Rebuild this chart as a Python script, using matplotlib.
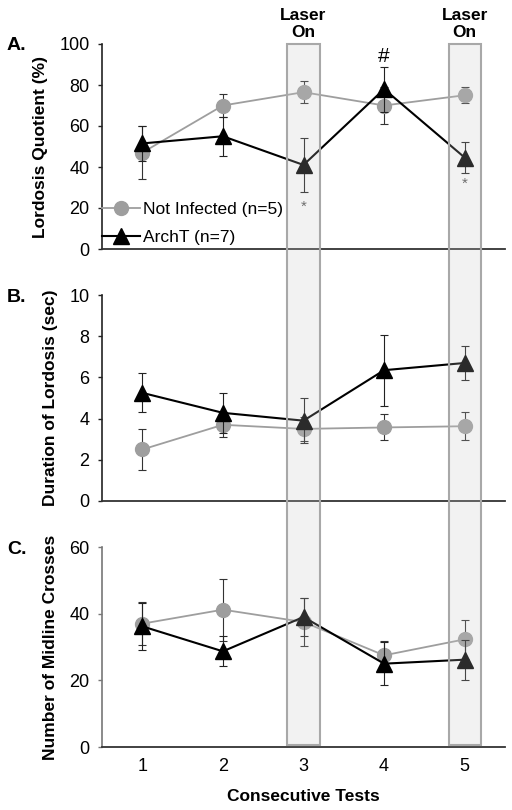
import matplotlib.pyplot as plt
import matplotlib.transforms as mtransforms
from matplotlib.patches import Rectangle
from matplotlib.lines import Line2D

# Data
tests = [1, 2, 3, 4, 5]
laser_tests = [3, 5]

lq_ctrl = [47, 70, 76.5, 70, 75]
lq_ctrl_err = [13, 5.5, 5.4, 9, 3.8]
lq_arch = [51.5, 55, 41, 78, 44.6]
lq_arch_err = [8.6, 9.6, 13.3, 11, 7.5]

dur_ctrl = [2.5, 3.7, 3.5, 3.57, 3.63]
dur_ctrl_err = [1.0, 0.6, 0.6, 0.63, 0.67]
dur_arch = [5.25, 4.28, 3.9, 6.35, 6.7]
dur_arch_err = [0.95, 0.97, 1.1, 1.73, 0.84]

mid_ctrl = [37, 41.2, 37.5, 27.5, 32.3]
mid_ctrl_err = [6.5, 9.3, 7.3, 4.2, 5.9]
mid_arch = [36.2, 28.7, 39, 25, 26.2]
mid_arch_err = [7, 4.5, 5.7, 6.5, 6]

fig = plt.figure(figsize=(5.12, 8.1), dpi=100)
plt.rcParams['font.family'] = ['Liberation Sans', 'DejaVu Sans']

W, H = 512, 810
left, right = 102 / W, 505 / W

CTRL_COLOR = '#9e9e9e'

def make_ax(top_px, bot_px):
    return fig.add_axes([left, 1 - bot_px / H, right - left, (bot_px - top_px) / H])

axA = make_ax(44, 249)
axB = make_ax(295, 501)
axC = make_ax(547, 747)

def plot_panel(ax, ctrl, ctrl_err, arch, arch_err, ylim, yticks, ylabel, letter,
               letter_y, spine_color):
    ax.errorbar(tests, ctrl, yerr=ctrl_err, color=CTRL_COLOR, marker='o', markersize=10,
                linewidth=1.3, ecolor='#333333', elinewidth=0.8, capsize=3,
                capthick=0.8, zorder=3)
    ax.errorbar(tests, arch, yerr=arch_err, color='black', marker='^', markersize=11,
                linewidth=1.5, ecolor='#222222', elinewidth=0.8, capsize=3,
                capthick=0.8, zorder=4)
    ax.set_xlim(0.5, 5.5)
    ax.set_ylim(*ylim)
    ax.set_yticks(yticks)
    ax.tick_params(axis='y', length=3, width=1, color=spine_color, labelsize=13, pad=6)
    ax.tick_params(axis='x', length=0, labelsize=13, pad=8)
    for s in ['top', 'right']:
        ax.spines[s].set_visible(False)
    ax.spines['left'].set_color(spine_color)
    ax.spines['left'].set_linewidth(1.2)
    ax.spines['bottom'].set_color('#333333')
    ax.spines['bottom'].set_linewidth(1.3)
    ax.set_ylabel(ylabel, fontsize=12.5, fontweight='bold', labelpad=8)
    fig.text(7 / W, 1 - letter_y / H, letter, fontsize=14, fontweight='bold',
             ha='left', va='center')

plot_panel(axA, lq_ctrl, lq_ctrl_err, lq_arch, lq_arch_err, (0, 100),
           [0, 20, 40, 60, 80, 100], 'Lordosis Quotient (%)', 'A.', 45, '#222222')
plot_panel(axB, dur_ctrl, dur_ctrl_err, dur_arch, dur_arch_err, (0, 10),
           [0, 2, 4, 6, 8, 10], 'Duration of Lordosis (sec)', 'B.', 297, '#222222')
plot_panel(axC, mid_ctrl, mid_ctrl_err, mid_arch, mid_arch_err, (0, 60),
           [0, 20, 40, 60], 'Number of Midline Crosses', 'C.', 549, '#777777')

axA.set_xticks([])
axB.set_xticks([])
axC.set_xticks(tests)
axC.set_xlabel('Consecutive Tests', fontsize=12.5, fontweight='bold', labelpad=10)

handles = [
    Line2D([], [], color=CTRL_COLOR, marker='o', markersize=10, linewidth=1.3),
    Line2D([], [], color='black', marker='^', markersize=11, linewidth=1.5),
]
leg = axA.legend(handles, ['Not Infected (n=5)', 'ArchT (n=7)'], loc='lower left',
                 bbox_to_anchor=(0.0, 0.02), frameon=False, fontsize=12.5,
                 handlelength=2.2, handletextpad=0.15, labelspacing=0.75,
                 borderaxespad=0, borderpad=0)
leg.set_zorder(20)

# significance marks
axA.text(3, 20.8, '*', ha='center', va='center', fontsize=11, color='#555555')
axA.text(5, 32, '*', ha='center', va='center', fontsize=11, color='#555555')
axA.text(4, 94, '#', ha='center', va='center', fontsize=15)

# Laser-on boxes spanning all panels
trans = mtransforms.blended_transform_factory(axA.transData, fig.transFigure)
y_top = 1 - 44 / H
y_bot = 1 - 745 / H
for t in laser_tests:
    fig.add_artist(Rectangle((t - 0.2, y_bot), 0.4, y_top - y_bot, transform=trans,
                             facecolor='#c8c8c8', alpha=0.22, edgecolor='none',
                             zorder=10))
    fig.add_artist(Rectangle((t - 0.2, y_bot), 0.4, y_top - y_bot, transform=trans,
                             facecolor='none', edgecolor='#a8a8a8', linewidth=1.5,
                             zorder=11))
    fig.text(t, 1 - 24 / H, 'Laser\nOn', transform=trans, ha='center', va='center',
             fontsize=12.5, fontweight='bold', linespacing=1.15)

fig.savefig('out.png', dpi=100)
